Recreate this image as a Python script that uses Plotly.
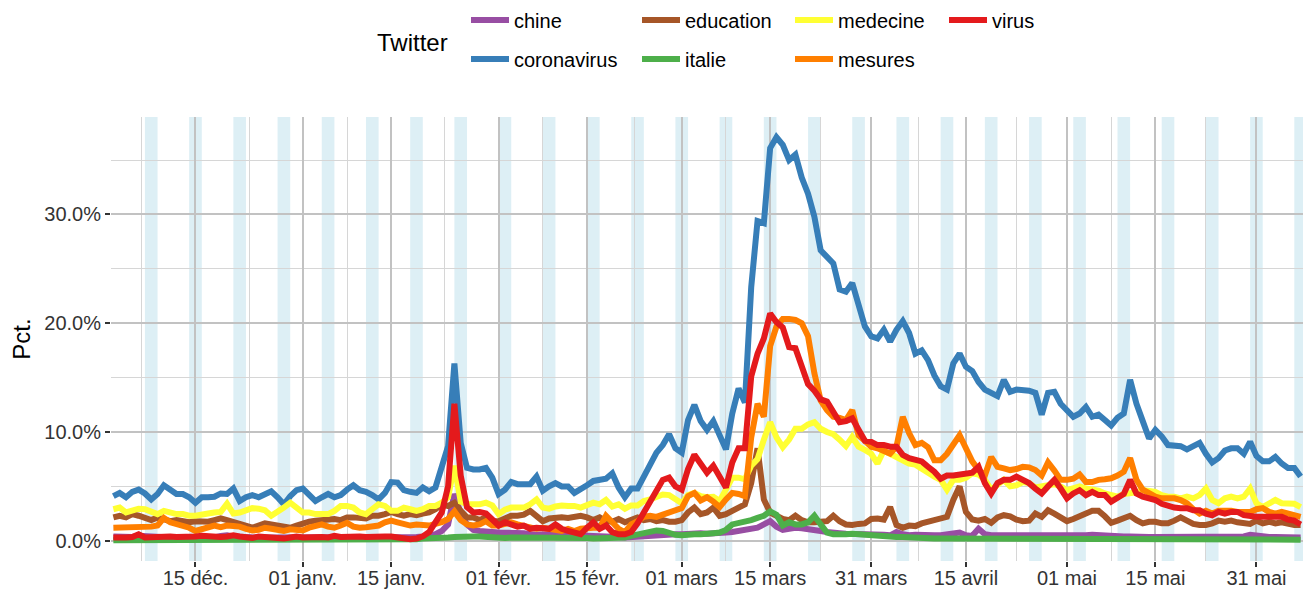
import pandas as pd
import plotly.graph_objects as go

dates = pd.date_range("2019-12-02", "2020-06-07", freq="D")

chine = [0.4, 0.35, 0.3, 0.35, 0.45, 0.4, 0.35, 0.3, 0.35, 0.3,
         0.3, 0.3, 0.3, 0.35, 0.3, 0.3, 0.3, 0.45, 0.5, 0.4,
         0.35, 0.3, 0.3, 0.3, 0.3, 0.3, 0.3, 0.25, 0.3, 0.3,
         0.25, 0.3, 0.3, 0.3, 0.3, 0.3, 0.3, 0.3, 0.3, 0.3,
         0.3, 0.3, 0.3, 0.35, 0.3, 0.3, 0.3, 0.3, 0.35, 0.4,
         0.5, 0.6, 0.9, 1.5, 4.3, 2.5, 1.5, 1.0, 0.9, 0.9,
         0.8, 0.75, 0.75, 0.7, 0.75, 0.7, 0.6, 0.6, 0.6, 0.6,
         0.6, 0.55, 0.55, 0.5, 0.5, 0.45, 0.45, 0.45, 0.4, 0.4,
         0.35, 0.3, 0.35, 0.4, 0.45, 0.5, 0.55, 0.6, 0.6, 0.6,
         0.6, 0.65, 0.7, 0.7, 0.65, 0.65, 0.7, 0.75, 0.8, 0.9,
         0.95, 1.1, 1.2, 1.5, 1.8, 1.3, 1.0, 1.1, 1.2, 1.15,
         1.1, 1.0, 0.9, 0.8, 0.7, 0.7, 0.65, 0.65, 0.6, 0.6,
         0.6, 0.6, 0.55, 0.5, 0.8, 0.6, 0.5, 0.55, 0.5, 0.5,
         0.5, 0.5, 0.55, 0.6, 0.75, 0.5, 0.45, 1.1, 0.6, 0.5,
         0.5, 0.5, 0.5, 0.5, 0.5, 0.5, 0.45, 0.45, 0.4, 0.4,
         0.4, 0.4, 0.4, 0.45, 0.5, 0.55, 0.5, 0.45, 0.4, 0.4,
         0.4, 0.4, 0.35, 0.35, 0.35, 0.35, 0.35, 0.35, 0.35, 0.35,
         0.35, 0.35, 0.35, 0.35, 0.35, 0.35, 0.35, 0.35, 0.35, 0.4,
         0.55, 0.45, 0.35, 0.35, 0.35, 0.35, 0.35, 0.3, 0.3]

coronavirus = [4.1, 4.4, 4.0, 4.5, 4.7, 4.35, 3.8, 4.3, 5.1, 4.65,
               4.3, 4.3, 4.0, 3.5, 4.0, 4.0, 4.05, 4.35, 4.3, 4.8,
               3.65, 4.0, 4.2, 4.0, 4.3, 4.55, 4.0, 3.35, 4.1, 4.65,
               4.8, 4.3, 3.65, 4.0, 4.3, 4.0, 4.2, 4.7, 5.1, 4.65,
               4.5, 4.2, 3.8, 4.4, 5.4, 5.35, 4.65, 4.5, 4.4, 4.9,
               4.55, 4.9, 6.9, 8.7, 16.3, 9.0, 6.7, 6.55, 6.55, 6.7,
               5.8, 4.3, 4.7, 5.4, 5.2, 5.2, 5.2, 5.9, 4.6, 5.0,
               5.3, 5.0, 5.0, 4.4, 4.7, 5.1, 5.5, 5.6, 5.7, 6.2,
               4.9, 4.0, 4.8, 4.8, 5.9, 7.0, 8.1, 8.8, 9.8, 8.5,
               8.1, 11.1, 12.5, 11.0, 10.2, 11.0, 9.8, 8.4, 11.7, 14.0,
               12.7, 23.3, 29.4, 29.2, 36.1, 37.1, 36.4, 35.0, 35.5, 33.4,
               31.9, 29.8, 26.7, 26.1, 25.5, 23.1, 22.9, 23.7, 21.8, 19.7,
               18.8, 18.6, 19.4, 18.3, 19.4, 20.2, 19.1, 17.2, 17.5, 16.6,
               15.2, 14.2, 13.9, 16.3, 17.2, 16.0, 15.6, 14.6, 13.9, 13.6,
               13.3, 14.8, 13.7, 13.9, 13.9, 13.8, 13.6, 11.6, 13.6, 13.7,
               12.6, 11.9, 11.4, 11.7, 12.3, 11.4, 11.6, 11.1, 10.6, 11.3,
               11.7, 14.8, 12.6, 11.0, 9.4, 10.2, 9.6, 8.8, 8.7, 8.7,
               8.4, 8.7, 9.0, 8.0, 7.2, 7.6, 8.3, 8.5, 8.5, 8.0,
               9.1, 7.8, 7.3, 7.3, 7.7, 7.1, 6.7, 6.7, 5.9]

education = [2.15, 2.3, 2.15, 2.45, 2.3, 2.15, 1.9, 2.15, 2.0, 1.8,
             1.9, 1.75, 1.7, 1.8, 1.8, 1.75, 1.9, 2.05, 1.9, 1.7,
             1.5, 1.4, 1.2, 1.4, 1.6, 1.5, 1.4, 1.2, 1.2, 1.4,
             1.6, 1.75, 1.85, 1.9, 1.9, 2.0, 1.9, 2.15, 2.15, 2.05,
             2.05, 2.3, 2.3, 2.45, 2.65, 2.45, 2.3, 2.45, 2.35, 2.5,
             2.6, 2.9, 3.35, 3.2, 3.5, 2.75, 2.15, 2.15, 1.9, 2.15,
             1.8, 1.8, 2.0, 2.3, 2.3, 2.4, 2.75, 2.2, 1.8, 2.05,
             2.15, 2.15, 2.1, 2.15, 2.3, 2.15, 1.9, 2.15, 1.8, 1.75,
             2.0, 1.7, 2.0, 2.15, 1.9, 2.0, 1.8, 1.9, 1.75, 1.75,
             1.9, 2.6, 3.05, 2.45, 2.6, 3.05, 2.3, 2.45, 2.75, 3.05,
             3.35, 5.3, 8.5, 3.8, 2.6, 2.3, 2.0, 1.9, 2.3, 1.9,
             1.7, 1.7, 1.75, 1.8, 2.3, 1.8, 1.5, 1.45, 1.55, 1.6,
             2.0, 2.05, 1.95, 3.1, 1.45, 1.2, 1.4, 1.35, 1.6, 1.75,
             1.9, 2.05, 2.2, 3.75, 5.0, 2.65, 1.95, 1.85, 2.0, 1.65,
             2.15, 2.35, 2.25, 1.95, 1.8, 1.85, 2.5, 2.2, 2.8, 2.5,
             2.2, 1.8, 2.0, 2.2, 2.5, 2.75, 2.75, 2.25, 1.65, 1.85,
             2.15, 2.3, 1.9, 1.6, 1.75, 1.75, 1.6, 1.6, 1.85, 2.15,
             1.85, 1.55, 1.45, 1.45, 1.6, 1.85, 1.75, 1.85, 1.7, 1.6,
             1.55, 1.85, 1.6, 1.75, 1.6, 1.7, 1.55, 1.45, 1.45]

italie = [0.05, 0.05, 0.05, 0.05, 0.05, 0.05, 0.05, 0.05, 0.1, 0.05,
          0.05, 0.05, 0.05, 0.05, 0.1, 0.05, 0.05, 0.05, 0.05, 0.05,
          0.05, 0.05, 0.05, 0.05, 0.05, 0.1, 0.05, 0.05, 0.05, 0.05,
          0.05, 0.05, 0.05, 0.1, 0.1, 0.05, 0.1, 0.1, 0.1, 0.1,
          0.1, 0.1, 0.1, 0.1, 0.15, 0.15, 0.1, 0.1, 0.15, 0.2,
          0.2, 0.25, 0.25, 0.3, 0.35, 0.4, 0.4, 0.4, 0.4, 0.35,
          0.3, 0.25, 0.25, 0.3, 0.3, 0.35, 0.35, 0.3, 0.3, 0.3,
          0.3, 0.3, 0.3, 0.25, 0.25, 0.25, 0.2, 0.2, 0.2, 0.25,
          0.3, 0.3, 0.45, 0.6, 0.75, 0.8, 0.95, 0.9, 0.7, 0.55,
          0.5, 0.6, 0.6, 0.6, 0.6, 0.7, 0.75, 1.0, 1.5, 1.6,
          1.7, 1.9, 2.1, 2.3, 2.7, 2.4, 1.4, 1.7, 1.5, 1.5,
          1.7, 2.3, 1.5, 0.75, 0.6, 0.55, 0.6, 0.65, 0.6, 0.55,
          0.45, 0.4, 0.4, 0.35, 0.35, 0.35, 0.3, 0.25, 0.25, 0.2,
          0.2, 0.2, 0.2, 0.2, 0.2, 0.2, 0.15, 0.15, 0.15, 0.15,
          0.15, 0.15, 0.15, 0.15, 0.15, 0.15, 0.15, 0.2, 0.15, 0.15,
          0.15, 0.15, 0.15, 0.15, 0.15, 0.15, 0.15, 0.15, 0.15, 0.15,
          0.15, 0.2, 0.15, 0.15, 0.15, 0.15, 0.15, 0.1, 0.1, 0.1,
          0.1, 0.1, 0.1, 0.1, 0.1, 0.1, 0.1, 0.1, 0.1, 0.1,
          0.1, 0.1, 0.1, 0.1, 0.1, 0.1, 0.1, 0.1, 0.1]

medecine = [2.9, 3.05, 2.6, 2.75, 2.95, 2.9, 2.6, 2.45, 2.75, 2.6,
            2.45, 2.45, 2.3, 2.3, 2.45, 2.5, 2.6, 2.65, 3.4, 2.5,
            2.6, 2.75, 3.0, 2.95, 2.8, 2.3, 2.6, 3.05, 3.5, 3.05,
            2.6, 2.6, 2.45, 2.45, 2.45, 2.75, 3.2, 3.2, 3.05, 2.6,
            2.45, 2.9, 3.35, 3.2, 2.75, 2.75, 3.05, 2.9, 2.75, 2.9,
            3.2, 3.2, 3.5, 4.0, 6.9, 3.6, 3.35, 3.35, 3.35, 3.5,
            3.25, 2.45, 2.85, 3.05, 3.05, 3.05, 3.35, 3.8, 3.05, 2.95,
            3.15, 3.25, 3.2, 3.2, 3.05, 3.25, 3.5, 3.35, 3.75, 3.15,
            3.35, 2.95, 3.25, 3.25, 3.65, 3.8, 4.0, 4.25, 4.2, 3.8,
            3.45, 4.2, 4.4, 4.1, 4.0, 4.05, 3.65, 4.7, 5.8, 5.8,
            5.65, 6.9, 7.5, 9.3, 10.9, 9.5, 8.6, 9.3, 10.3, 10.3,
            10.7, 10.9, 10.3, 10.0, 9.8, 9.3, 8.7, 9.55, 8.65, 8.35,
            8.0, 7.1, 8.3, 8.0, 7.7, 7.3, 7.1, 7.0, 6.6, 6.2,
            5.9, 5.6, 4.7, 5.6, 5.6, 5.8, 6.2, 6.1, 5.6, 4.7,
            5.2, 5.6, 5.0, 5.1, 5.4, 5.3, 4.9, 5.05, 5.1, 5.2,
            5.0, 4.65, 4.8, 5.0, 4.8, 4.7, 4.6, 4.35, 4.2, 4.05,
            4.3, 4.35, 4.45, 4.65, 4.6, 4.5, 4.2, 4.05, 4.05, 3.9,
            4.05, 3.9, 4.2, 4.8, 3.75, 3.45, 3.9, 4.05, 3.9, 4.05,
            4.8, 3.45, 3.1, 3.45, 3.75, 3.45, 3.45, 3.4, 3.1]

mesures = [1.2, 1.2, 1.2, 1.25, 1.2, 1.3, 1.3, 1.4, 2.1, 1.7,
           1.55, 1.4, 1.2, 0.9, 1.1, 1.2, 1.4, 1.25, 1.4, 1.35,
           1.3, 1.1, 0.95, 1.0, 1.2, 1.1, 0.95, 0.9, 1.05, 0.95,
           0.95, 1.2, 1.35, 1.5, 1.3, 1.2, 1.4, 1.65, 1.3, 1.2,
           1.25, 1.3, 1.4, 1.7, 1.85, 1.7, 1.6, 1.4, 1.5, 1.5,
           1.4, 1.55, 1.7, 2.0, 2.7, 1.9, 1.5, 1.4, 1.5, 1.8,
           1.4, 1.4, 1.5, 1.7, 1.5, 1.4, 1.2, 1.1, 1.2, 1.1,
           1.1, 0.9, 1.1, 0.9, 1.1, 1.2, 1.2, 1.2, 2.3, 1.7,
           1.1, 0.8, 1.5, 1.8, 2.2, 2.3, 2.2, 2.4, 2.6, 2.9,
           3.0, 4.1, 4.4, 3.7, 4.0, 3.6, 3.1, 3.8, 4.4, 4.3,
           4.1, 9.5, 12.6, 11.4, 17.9, 19.7, 20.4, 20.4, 20.3, 20.0,
           18.8, 15.4, 12.9, 12.0, 11.4, 11.3, 11.1, 12.0, 9.7, 9.2,
           8.65, 8.5, 8.3, 8.0, 8.65, 11.4, 9.9, 8.8, 9.0, 8.6,
           7.4, 7.4, 8.0, 8.9, 9.7, 8.5, 7.3, 6.5, 6.0, 7.7,
           6.8, 6.65, 6.5, 6.6, 6.8, 6.75, 6.5, 6.0, 7.2, 6.45,
           5.6, 5.6, 5.7, 6.1, 5.4, 5.4, 5.6, 5.65, 5.75, 6.0,
           6.35, 7.6, 5.6, 4.7, 4.35, 4.05, 3.9, 3.9, 3.9, 3.75,
           3.45, 2.9, 2.5, 2.75, 2.5, 2.75, 2.8, 2.75, 2.65, 2.65,
           2.65, 2.9, 3.0, 2.65, 2.5, 2.65, 2.5, 2.35, 2.2]

virus = [0.3, 0.25, 0.3, 0.35, 0.6, 0.3, 0.35, 0.4, 0.45, 0.4,
         0.35, 0.35, 0.3, 0.4, 0.45, 0.4, 0.35, 0.35, 0.4, 0.5,
         0.4, 0.35, 0.25, 0.4, 0.35, 0.3, 0.25, 0.2, 0.3, 0.4,
         0.3, 0.35, 0.4, 0.35, 0.3, 0.45, 0.35, 0.4, 0.35, 0.4,
         0.35, 0.4, 0.45, 0.4, 0.4, 0.3, 0.2, 0.15, 0.2, 0.4,
         0.8, 1.6, 2.6, 5.0, 12.6, 6.0, 3.1, 2.6, 2.65, 2.5,
         2.0, 1.4, 1.7, 1.5, 1.3, 1.4, 1.1, 1.2, 1.1, 1.1,
         1.5, 1.1, 0.9, 0.8, 0.6, 1.2, 1.7, 1.1, 1.4, 0.8,
         0.6, 0.6, 0.8, 1.6, 2.6, 3.6, 4.4, 5.6, 5.8, 5.0,
         4.7, 6.6, 7.9, 7.0, 6.25, 6.9, 5.9, 4.9, 7.2, 8.5,
         8.5, 15.1, 17.2, 18.6, 20.9, 20.1, 19.6, 17.8, 17.7, 16.2,
         14.4, 13.8, 13.0, 12.8, 11.8, 10.9, 11.0, 11.25, 10.2, 9.2,
         9.1, 8.8, 8.8, 8.65, 8.65, 7.9, 7.6, 7.4, 7.3, 6.8,
         6.35, 5.7, 6.0, 6.0, 6.1, 6.2, 6.25, 6.8, 5.3, 4.35,
         5.3, 5.6, 5.6, 5.9, 5.6, 5.3, 4.8, 4.35, 5.0, 5.6,
         4.8, 3.9, 4.35, 4.65, 4.2, 4.5, 4.2, 4.2, 3.6, 3.9,
         4.3, 5.6, 4.35, 4.05, 3.9, 3.75, 3.4, 3.2, 3.05, 3.0,
         3.0, 2.8, 2.8, 2.5, 2.35, 2.65, 2.5, 2.65, 2.65, 2.35,
         2.25, 2.2, 2.2, 2.2, 2.25, 2.2, 1.95, 1.85, 1.5]

series_names = ["chine", "coronavirus", "education", "italie", "medecine", "mesures", "virus"]
series_values = [chine, coronavirus, education, italie, medecine, mesures, virus]
series_colors = ["#984EA3", "#377EB8", "#A65628", "#4DAF4A", "#FFFF33", "#FF7F00", "#E41A1C"]

tick_dates = ["2019-12-15", "2020-01-01", "2020-01-15", "2020-02-01", "2020-02-15", "2020-03-01",
              "2020-03-15", "2020-03-31", "2020-04-15", "2020-05-01", "2020-05-15", "2020-05-31"]
tick_labels = ["15 déc.", "01 janv.", "15 janv.", "01 févr.", "15 févr.", "01 mars",
               "15 mars", "31 mars", "15 avril", "01 mai", "15 mai", "31 mai"]
y_ticks = [0, 10, 20, 30]
y_minor = [5, 15, 25, 35]

FONT = "Liberation Sans, Arial, Helvetica, sans-serif"
TICK_COLOR = "#333333"
W, H = 1306, 589
ML, MR, MT, MB = 111, 3, 117, 28
PW, PH = W - ML - MR, H - MT - MB

# legend layout: 4 columns x 2 rows (filled by column); pixel anchors of the texts
col_text_x = [514, 685, 838, 992]
row_center_y = [21, 60]
ITEMW = 38

fig = go.Figure()
for i, (name, vals, col) in enumerate(zip(series_names, series_values, series_colors)):
    lid = "legend" if i == 0 else f"legend{i + 1}"
    fig.add_trace(go.Scatter(
        x=dates.strftime("%Y-%m-%d"), y=vals, mode="lines", name=name,
        line=dict(color=col, width=6), legend=lid,
        hovertemplate="%{x}: %{y:.1f}%<extra>" + name + "</extra>"))
    c, r = divmod(i, 2)
    lx_px = col_text_x[c] - (ITEMW + 10)
    ly_px = row_center_y[r] - 20.5
    fig.update_layout({lid: dict(
        orientation="h", xref="paper", yref="paper",
        x=(lx_px - ML) / PW, y=(H - MB - ly_px) / PH,
        xanchor="left", yanchor="top",
        font=dict(size=20, color="black", family=FONT),
        bgcolor="rgba(0,0,0,0)", borderwidth=0, itemwidth=ITEMW,
    )})

# weekend bands (Saturday -> Monday)
shapes = []
for d in dates:
    if d.weekday() == 5:
        shapes.append(dict(type="rect", xref="x", yref="paper",
                           x0=d.strftime("%Y-%m-%d"),
                           x1=(d + pd.Timedelta(days=2)).strftime("%Y-%m-%d"),
                           y0=0, y1=1,
                           fillcolor="rgba(173,216,230,0.42)", line=dict(width=0),
                           layer="between"))

major = pd.to_datetime(tick_dates)
minor = [major[0] - (major[1] - major[0]) / 2] + \
        [a + (b - a) / 2 for a, b in zip(major[:-1], major[1:])]
minor = [m.strftime("%Y-%m-%d %H:%M") for m in minor]

x0 = (dates[0] - pd.Timedelta(hours=9)).strftime("%Y-%m-%d %H:%M")
x1 = (dates[-1] + pd.Timedelta(hours=9)).strftime("%Y-%m-%d %H:%M")

fig.update_layout(
    width=W, height=H,
    margin=dict(l=ML, r=MR, t=MT, b=MB, autoexpand=False),
    plot_bgcolor="white", paper_bgcolor="white",
    font=dict(family=FONT, size=20, color=TICK_COLOR),
    shapes=shapes,
    showlegend=True,
    hovermode="closest",
)

fig.update_xaxes(
    type="date", range=[x0, x1],
    tickmode="array", tickvals=tick_dates, ticktext=tick_labels,
    ticks="outside", ticklen=5, tickwidth=2, tickcolor="#333333",
    tickfont=dict(size=20, color=TICK_COLOR, family=FONT),
    ticklabelstandoff=-6,
    showgrid=True, gridcolor="#c2c2c2", gridwidth=2.2,
    minor=dict(tickvals=minor, showgrid=True, gridcolor="#d6d6d6", gridwidth=1.2, ticks=""),
    showline=False, zeroline=False, automargin=False,
)
fig.update_yaxes(
    range=[-1.86, 38.96],
    tickmode="array", tickvals=y_ticks, ticktext=[f"{v:.1f}%" for v in y_ticks],
    ticks="outside", ticklen=5, tickwidth=2, tickcolor="#333333",
    tickfont=dict(size=20, color=TICK_COLOR, family=FONT),
    showgrid=True, gridcolor="#c2c2c2", gridwidth=2.2,
    minor=dict(tickvals=y_minor, showgrid=True, gridcolor="#d6d6d6", gridwidth=1.2, ticks=""),
    showline=False, zeroline=False, automargin=False,
    title=dict(text="Pct.", font=dict(size=24, color="black", family=FONT), standoff=6),
)

fig.add_annotation(
    text="Twitter", xref="paper", yref="paper",
    x=(375 - ML) / PW, y=(H - MB - 42) / PH,
    xanchor="left", yanchor="middle", showarrow=False,
    font=dict(size=24, color="black", family=FONT),
)

# remove the default page margin so the figure sits at the window's top-left corner
fig.write_html("out.html", config={"displayModeBar": False},
               post_script="document.body.style.margin='0';")
